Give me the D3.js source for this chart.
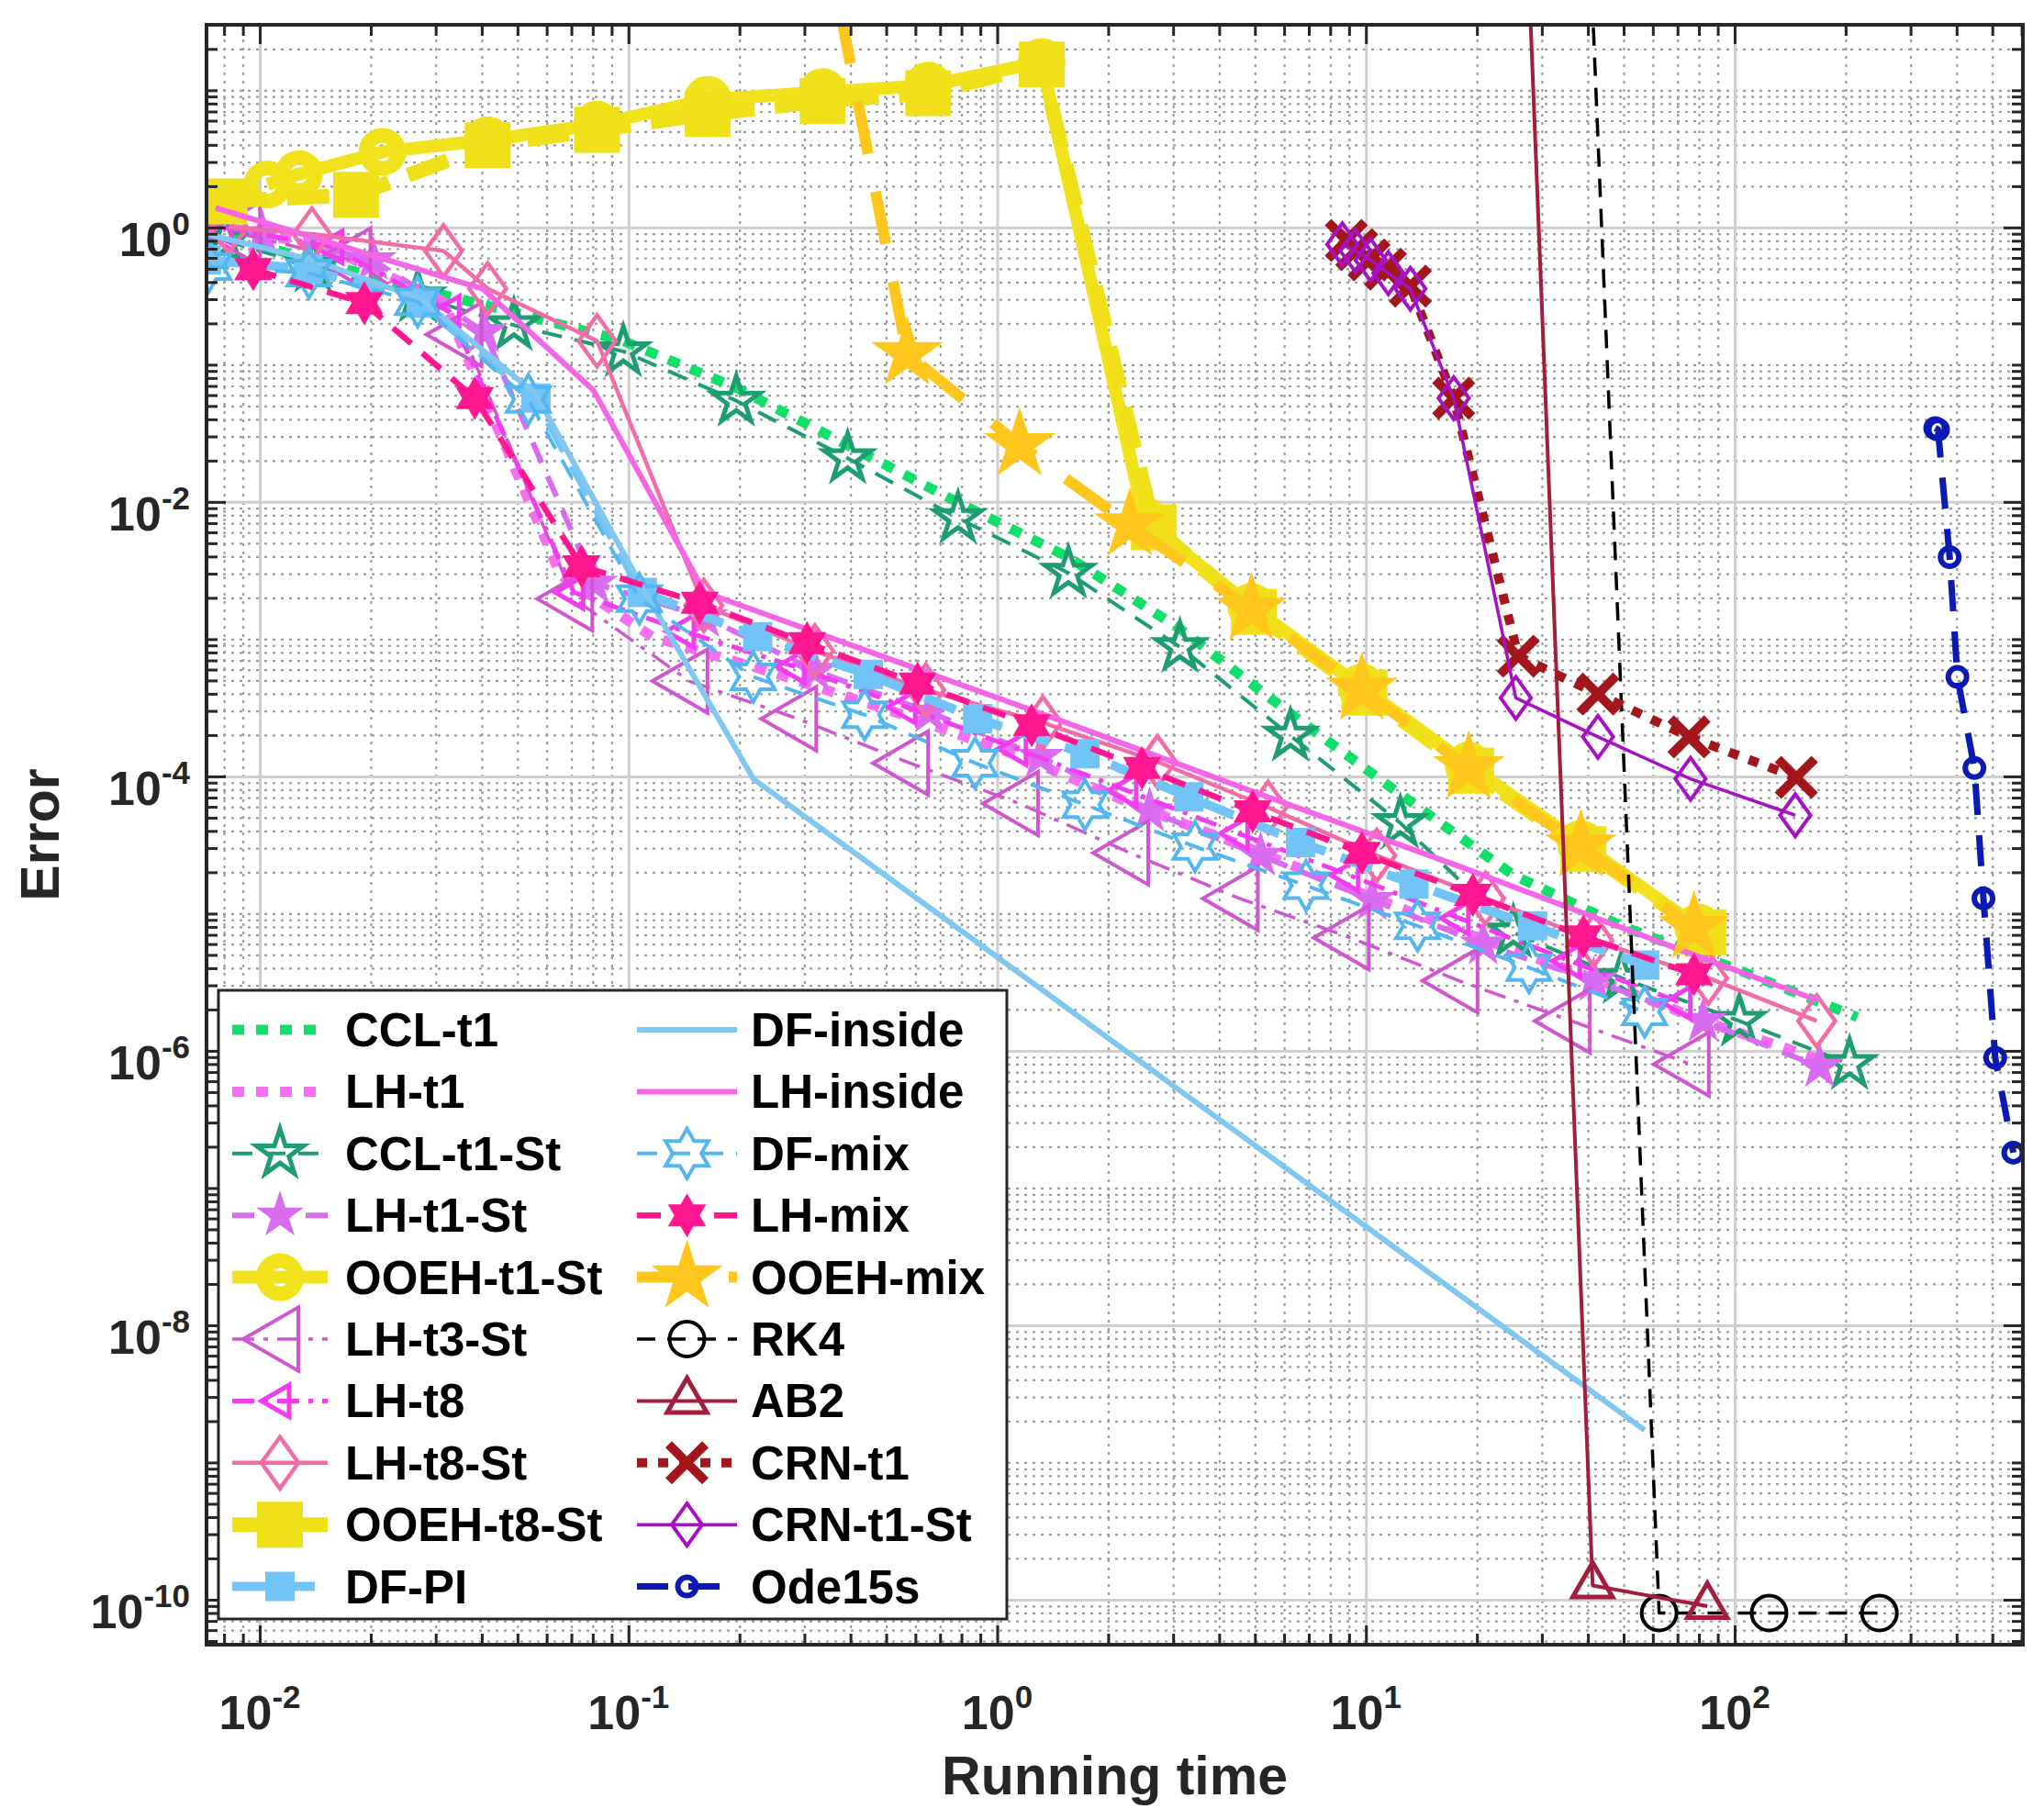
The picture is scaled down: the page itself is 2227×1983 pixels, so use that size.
<!DOCTYPE html>
<html>
<head>
<meta charset="utf-8">
<script src="https://cdn.jsdelivr.net/npm/d3@7"></script>
<style>
  html, body { margin: 0; padding: 0; background: #fff; }
  svg { display: block; font-family: "Liberation Sans", Arial, sans-serif; font-weight: bold; }
</style>
</head>
<body>
<svg id="chart" width="2227" height="1983"></svg>
<script>
// ---- values: [running time, error] ----
const cclT1 = [[7.28e-3,0.937],[0.01396,0.579],[0.0268,0.358],[0.0489,0.241],[0.0968,0.149],[0.196,0.0679],[0.393,0.0259],[0.783,0.0099],[1.56,0.00396],[3.13,0.00119],[6.24,2.87e-4],[12.4,7.4e-5],[25.1,1.91e-5],[49.3,8.13e-6],[103,3.86e-6],[215,1.76e-6]];
const lhT1 = [[7.28e-3,1.07],[0.0151,0.721],[0.0315,0.288],[0.0655,0.00291],[0.116,0.00104],[0.255,5.53e-4],[0.543,2.87e-4],[1.13,1.43e-4],[2.35,6.21e-5],[4.89,2.95e-5],[10.2,1.34e-5],[21.1,6.38e-6],[42.2,3.31e-6],[84.3,1.61e-6],[182,8.18e-7]];
const cclT1St = [[8.04e-3,0.804],[0.01396,0.519],[0.0268,0.314],[0.0489,0.194],[0.0968,0.125],[0.196,0.0546],[0.393,0.0208],[0.783,0.00762],[1.56,0.00304],[3.13,8.75e-4],[6.24,1.98e-4],[12.4,4.57e-5],[25.1,7.28e-6],[49.3,3.39e-6],[103,1.65e-6],[205,8.0e-7]];
const lhT1St = [[0.01016,0.896],[0.0203,0.579],[0.0406,0.174],[0.0809,0.00255],[0.161,0.00145],[0.320,5.9e-4],[0.655,2.93e-4],[1.31,1.39e-4],[2.59,5.57e-5],[5.18,2.65e-5],[10.4,1.26e-5],[20.8,5.98e-6],[41.5,3.24e-6],[82.2,1.65e-6],[170,7.66e-7]];
const ooehT1St = [[0.0105,2.06],[0.01277,2.45],[0.0215,3.56],[0.0415,4.33],[0.0822,5.62],[0.164,8.53],[0.336,9.72],[0.650,10.8],[1.32,16.1],[2.51,0.0073],[4.89,0.00172],[9.75,4.44e-4],[19.0,1.2e-4],[38.3,3.22e-5],[79.6,7.94e-6]];
const lhT3St = [[8.93e-3,0.896],[0.0178,0.579],[0.0356,0.166],[0.0711,0.00197],[0.146,4.95e-4],[0.288,2.63e-4],[0.579,1.25e-4],[1.15,6.34e-5],[2.29,2.77e-5],[4.54,1.29e-5],[9.08,6.67e-6],[17.9,3.24e-6],[36.1,1.65e-6],[75.9,8.0e-7]];
const lhT8 = [[7.9e-3,1.0],[0.0158,0.721],[0.0328,0.241],[0.0711,0.00219],[0.142,0.00114],[0.283,6.31e-4],[0.566,3.2e-4],[1.13,1.59e-4],[2.25,7.89e-5],[4.51,3.84e-5],[9.0,1.91e-5],[17.9,9.27e-6],[35.9,4.5e-6],[71.6,2.24e-6]];
const lhT8St = [[8.23e-3,1.0],[0.01384,0.896],[0.0315,0.675],[0.0415,0.358],[0.0822,0.149],[0.160,0.00176],[0.320,8.2e-4],[0.640,4.26e-4],[1.33,2.46e-4],[2.72,1.28e-4],[5.43,5.94e-5],[10.7,2.65e-5],[21.1,1.29e-5],[41.5,6.38e-6],[84.9,3.39e-6],[167,1.65e-6]];
const ooehT8St = [[0.00803,1.55],[0.01824,1.73],[0.0415,3.97],[0.0822,5.15],[0.164,6.70],[0.336,8.34],[0.650,9.51],[1.32,15.4],[2.66,0.00654],[4.97,0.00158],[9.91,4.07e-4],[19.3,1.1e-4],[38.9,2.95e-5],[82.2,7.3e-6]];
const dfPI = [[7.16e-3,0.579],[0.01352,0.497],[0.0274,0.281],[0.0561,0.057],[0.109,0.00219],[0.224,0.00104],[0.447,5.53e-4],[0.885,2.63e-4],[1.73,1.46e-4],[3.31,7.08e-5],[6.65,3.3e-5],[13.5,1.64e-5],[28.3,8.13e-6],[57.0,4.22e-6]];
const dfInside = [[7.16e-3,0.896],[0.01396,0.579],[0.0274,0.30],[0.0561,0.0609],[0.111,0.00219],[0.218,9.6e-5],[57.0,1.72e-9]];
const lhInside = [[7.59e-3,1.39],[0.0402,0.358],[0.0804,0.065],[0.161,0.00219],[1.44,2.63e-4],[5.18,7.4e-5],[18.6,2.13e-5],[79.0,4.91e-6],[168,2.34e-6]];
const dfMix = [[7.28e-3,0.519],[0.0136,0.465],[0.0268,0.288],[0.0535,0.0557],[0.107,0.00197],[0.218,5.3e-4],[0.437,2.81e-4],[0.871,1.25e-4],[1.73,6.21e-5],[3.44,3.08e-5],[6.88,1.6e-5],[13.8,8.13e-6],[27.7,4.04e-6],[57.0,1.92e-6]];
const lhMix = [[9.6e-3,0.497],[0.0192,0.281],[0.0383,0.057],[0.0746,0.0034],[0.156,0.00184],[0.305,9.35e-4],[0.608,4.74e-4],[1.24,2.36e-4],[2.47,1.15e-4],[4.93,5.57e-5],[9.75,2.77e-5],[19.5,1.37e-5],[38.9,6.82e-6],[77.6,3.61e-6]];
const ooehMix = [[0.336,170],[0.570,0.12],[1.15,0.026],[2.29,0.0068],[4.89,0.00165],[9.75,4.3e-4],[19.0,1.15e-4],[38.3,3.1e-5],[77.6,7.9e-6]];
const rk4 = [[31.2,2.5e9],[62.4,8.0e-11],[124,8.0e-11],[247,8.0e-11]];
const ab2 = [[20.6,3e10],[41.2,1.27e-10],[84.3,8.97e-11]];
const crnT1 = [[8.85,0.804],[9.44,0.69],[10.2,0.579],[11.3,0.497],[13.2,0.374],[17.3,0.057],[25.9,7.51e-4],[42.6,3.98e-4],[75.2,1.94e-4],[147,9.82e-5]];
const crnT1St = [[8.63,0.753],[9.37,0.675],[10.3,0.579],[11.5,0.465],[13.2,0.358],[17.3,0.057],[25.5,3.73e-4],[42.6,1.94e-4],[75.9,9.6e-5],[146,5.21e-5]];
const ode15s = [[350,0.0345],[356,0.0337],[383,0.00396],[402,5.3e-4],[447,1.15e-4],[473,1.29e-5],[509,8.9e-7],[570,1.81e-7]];

const xTickExps = [-2, -1, 0, 1, 2];
const yTickExps = [0, -2, -4, -6, -8, -10];
const xLabel = 'Running time';
const yLabel = 'Error';

// ---- drawing styles (legend order = plot order) ----
const series = [
  { name: 'CCL-t1',     data: cclT1,    color: '#12df6a', width: 11,  dash: '13 13' },
  { name: 'LH-t1',      data: lhT1,     color: '#f470f0', width: 11,  dash: '13 13' },
  { name: 'CCL-t1-St',  data: cclT1St,  color: '#1e9e70', width: 4,   dash: '22 14', marker: 'penta', size: 27, filled: false, mw: 5 },
  { name: 'LH-t1-St',   data: lhT1St,   color: '#d96bf0', width: 6,   dash: '24 16', marker: 'penta', size: 24, filled: true,  mw: 2 },
  { name: 'OOEH-t1-St', data: ooehT1St, color: '#f2e21c', width: 14,  dash: null,    marker: 'circle', size: 18, filled: false, mw: 16 },
  { name: 'LH-t3-St',   data: lhT3St,   color: '#d055d0', width: 3.5, dash: '24 10 5 10', marker: 'triLeft', size: 40, filled: false, mw: 4 },
  { name: 'LH-t8',      data: lhT8,     color: '#f23cf0', width: 5,   dash: '24 10 5 10', marker: 'triLeft', size: 20, filled: false, mw: 5 },
  { name: 'LH-t8-St',   data: lhT8St,   color: '#f26ca8', width: 4.5, dash: null,    marker: 'diamond', size: 28, filled: false, mw: 4.5 },
  { name: 'OOEH-t8-St', data: ooehT8St, color: '#f0e01a', width: 16,  dash: '46 22', marker: 'square', size: 24, filled: true, mw: 2 },
  { name: 'DF-PI',      data: dfPI,     color: '#72c3f6', width: 10,  dash: '36 18', marker: 'square', size: 15, filled: true, mw: 2 },
  { name: 'DF-inside',  data: dfInside, color: '#80c8f2', width: 6,   dash: null },
  { name: 'LH-inside',  data: lhInside, color: '#f466e6', width: 6,   dash: null },
  { name: 'DF-mix',     data: dfMix,    color: '#52b6f0', width: 4,   dash: '22 14', marker: 'hexa', size: 27, filled: false, mw: 4 },
  { name: 'LH-mix',     data: lhMix,    color: '#ff1690', width: 6.5, dash: '26 16', marker: 'hexa', size: 22, filled: true, mw: 2 },
  { name: 'OOEH-mix',   data: ooehMix,  color: '#ffc61c', width: 12,  dash: '58 42', marker: 'penta', size: 38, filled: true, mw: 2 },
  { name: 'RK4',        data: rk4,      color: '#000000', width: 3.5, dash: '20 13', marker: 'circle', size: 19, filled: false, mw: 4 },
  { name: 'AB2',        data: ab2,      color: '#a31d3f', width: 4,   dash: null,    marker: 'triUp', size: 25, filled: false, mw: 5 },
  { name: 'CRN-t1',     data: crnT1,    color: '#a3171c', width: 10,  dash: '11 12', marker: 'x', size: 20, filled: false, mw: 10 },
  { name: 'CRN-t1-St',  data: crnT1St,  color: '#a611c4', width: 3.5, dash: null,    marker: 'diamond', size: 23, filled: false, mw: 4 },
  { name: 'Ode15s',     data: ode15s,   color: '#0c1ab4', width: 7,   dash: '34 22', marker: 'circle', size: 10, filled: false, mw: 6 }
];

const plotL = 225, plotR = 2204, plotT = 27, plotB = 1792;
const svg = d3.select('#chart');

const x = d3.scaleLog().domain([0.00717, 605]).range([plotL, plotR]);
const y = d3.scaleLog().domain([4.7e-11, 30]).range([plotB, plotT]);

// tick positions
const majorX = xTickExps.map(e => 10 ** e);
const minorX = [];
for (let d = -3; d <= 2; d++) {
  for (let k = 2; k <= 9; k++) {
    const v = k * 10 ** d;
    if (v >= x.domain()[0] && v <= x.domain()[1]) minorX.push(v);
  }
}
const majorY = yTickExps.map(e => 10 ** e);
const minorY = [];
for (let d = -11; d <= 1; d++) {
  for (let k = 1; k <= 9; k++) {
    if (k === 1 && d % 2 === 0) continue;
    const v = k * 10 ** d;
    if (v >= y.domain()[0] && v <= y.domain()[1]) minorY.push(v);
  }
}

// ---- grid ----
const plotW = plotR - plotL, plotH = plotB - plotT;
function styleGrid(g, major) {
  g.select('.domain').remove();
  g.selectAll('line')
    .attr('stroke', major ? '#cfcfcf' : '#9c9c9c')
    .attr('stroke-width', major ? 3 : 2.2)
    .attr('stroke-dasharray', major ? null : '3 6');
}
const grid = svg.append('g');
grid.append('g').attr('transform', `translate(0,${plotB})`)
  .call(d3.axisBottom(x).tickValues(minorX).tickSize(-plotH).tickFormat(''))
  .call(g => styleGrid(g, false));
grid.append('g').attr('transform', `translate(${plotL},0)`)
  .call(d3.axisLeft(y).tickValues(minorY).tickSize(-plotW).tickFormat(''))
  .call(g => styleGrid(g, false));
grid.append('g').attr('transform', `translate(0,${plotB})`)
  .call(d3.axisBottom(x).tickValues(majorX).tickSize(-plotH).tickFormat(''))
  .call(g => styleGrid(g, true));
grid.append('g').attr('transform', `translate(${plotL},0)`)
  .call(d3.axisLeft(y).tickValues(majorY).tickSize(-plotW).tickFormat(''))
  .call(g => styleGrid(g, true));

// ---- markers ----
function markerPath(kind, r) {
  const p = d3.path();
  if (kind === 'circle') {
    p.moveTo(r, 0); p.arc(0, 0, r, 0, 2 * Math.PI);
  } else if (kind === 'square') {
    p.rect(-r, -r, 2 * r, 2 * r);
  } else if (kind === 'diamond') {
    p.moveTo(0, -r); p.lineTo(0.72 * r, 0); p.lineTo(0, r); p.lineTo(-0.72 * r, 0); p.closePath();
  } else if (kind === 'triLeft') {
    p.moveTo(-r, 0); p.lineTo(0.5 * r, -0.866 * r); p.lineTo(0.5 * r, 0.866 * r); p.closePath();
  } else if (kind === 'triUp') {
    p.moveTo(0, -r); p.lineTo(0.866 * r, 0.5 * r); p.lineTo(-0.866 * r, 0.5 * r); p.closePath();
  } else if (kind === 'penta' || kind === 'hexa') {
    const n = kind === 'penta' ? 5 : 6;
    const inner = kind === 'penta' ? 0.382 : 0.577;
    for (let i = 0; i < 2 * n; i++) {
      const a = -Math.PI / 2 + i * Math.PI / n;
      const rr = i % 2 === 0 ? r : r * inner;
      if (i === 0) p.moveTo(rr * Math.cos(a), rr * Math.sin(a));
      else p.lineTo(rr * Math.cos(a), rr * Math.sin(a));
    }
    p.closePath();
  } else if (kind === 'x') {
    p.moveTo(-r, -r); p.lineTo(r, r); p.moveTo(-r, r); p.lineTo(r, -r);
  }
  return p.toString();
}

function drawMarker(g, s, cx, cy) {
  g.append('path')
    .attr('d', markerPath(s.marker, s.size))
    .attr('transform', `translate(${cx},${cy})`)
    .attr('fill', s.filled ? s.color : 'none')
    .attr('stroke', s.color)
    .attr('stroke-width', s.mw)
    .attr('stroke-linejoin', 'miter');
}

// ---- data ----
svg.append('defs').append('clipPath').attr('id', 'plot-clip')
  .append('rect').attr('x', plotL).attr('y', plotT).attr('width', plotW).attr('height', plotH);

const line = d3.line().x(d => x(d[0])).y(d => y(d[1]));
const dataG = svg.append('g').attr('clip-path', 'url(#plot-clip)');

series.forEach(s => {
  const g = dataG.append('g');
  g.append('path')
    .datum(s.data)
    .attr('fill', 'none')
    .attr('stroke', s.color)
    .attr('stroke-width', s.width)
    .attr('stroke-dasharray', s.dash)
    .attr('stroke-linejoin', 'round')
    .attr('d', line);
  if (s.marker) {
    s.data.forEach(d => drawMarker(g, s, x(d[0]), y(d[1])));
  }
});

// ---- axes (inward ticks on all sides) ----
function styleTicks(g) {
  g.select('.domain').remove();
  g.selectAll('line').attr('stroke', '#262626').attr('stroke-width', 3);
}
const axesG = svg.append('g');
[[majorX, 21], [minorX, 12]].forEach(([vals, len]) => {
  axesG.append('g').attr('transform', `translate(0,${plotB})`)
    .call(d3.axisBottom(x).tickValues(vals).tickSize(-len).tickFormat('')).call(styleTicks);
  axesG.append('g').attr('transform', `translate(0,${plotT})`)
    .call(d3.axisTop(x).tickValues(vals).tickSize(-len).tickFormat('')).call(styleTicks);
});
[[majorY, 21], [minorY, 12]].forEach(([vals, len]) => {
  axesG.append('g').attr('transform', `translate(${plotL},0)`)
    .call(d3.axisLeft(y).tickValues(vals).tickSize(-len).tickFormat('')).call(styleTicks);
  axesG.append('g').attr('transform', `translate(${plotR},0)`)
    .call(d3.axisRight(y).tickValues(vals).tickSize(-len).tickFormat('')).call(styleTicks);
});
axesG.append('rect')
  .attr('x', plotL).attr('y', plotT).attr('width', plotW).attr('height', plotH)
  .attr('fill', 'none').attr('stroke', '#262626').attr('stroke-width', 4);

// tick labels with superscript exponents
xTickExps.forEach(e => {
  const t = svg.append('text')
    .attr('x', x(10 ** e)).attr('y', 1884)
    .attr('text-anchor', 'middle').attr('font-size', 52).attr('fill', '#262626');
  t.append('tspan').text('10');
  t.append('tspan').attr('dy', -23).attr('font-size', 35).text(String(e));
});
yTickExps.forEach(e => {
  const t = svg.append('text')
    .attr('x', 207).attr('y', y(10 ** e) + 31)
    .attr('text-anchor', 'end').attr('font-size', 52).attr('fill', '#262626');
  t.append('tspan').text('10');
  t.append('tspan').attr('dy', -23).attr('font-size', 35).text(String(e));
});

svg.append('text')
  .attr('x', (plotL + plotR) / 2).attr('y', 1955)
  .attr('text-anchor', 'middle').attr('font-size', 59).attr('fill', '#262626')
  .text(xLabel);
svg.append('text')
  .attr('transform', `translate(64,${(plotT + plotB) / 2}) rotate(-90)`)
  .attr('text-anchor', 'middle').attr('font-size', 59).attr('fill', '#262626')
  .text(yLabel);

// ---- legend ----
const legG = svg.append('g');
legG.append('rect')
  .attr('x', 238).attr('y', 1079).attr('width', 859).attr('height', 685)
  .attr('fill', '#fff').attr('stroke', '#262626').attr('stroke-width', 3);

const rowsPerCol = 10;
const colX = [{ x0: 253, x1: 357, tx: 376 }, { x0: 694, x1: 803, tx: 818 }];
series.forEach((s, i) => {
  const col = colX[Math.floor(i / rowsPerCol)];
  const cy = 1122 + (i % rowsPerCol) * 67.4;
  legG.append('line')
    .attr('x1', col.x0).attr('x2', col.x1).attr('y1', cy).attr('y2', cy)
    .attr('stroke', s.color).attr('stroke-width', s.width)
    .attr('stroke-dasharray', s.dash);
  if (s.marker) drawMarker(legG, s, (col.x0 + col.x1) / 2, cy);
  legG.append('text')
    .attr('x', col.tx).attr('y', cy + 18)
    .attr('font-size', 51).attr('fill', '#000')
    .text(s.name);
});
</script>
</body>
</html>
